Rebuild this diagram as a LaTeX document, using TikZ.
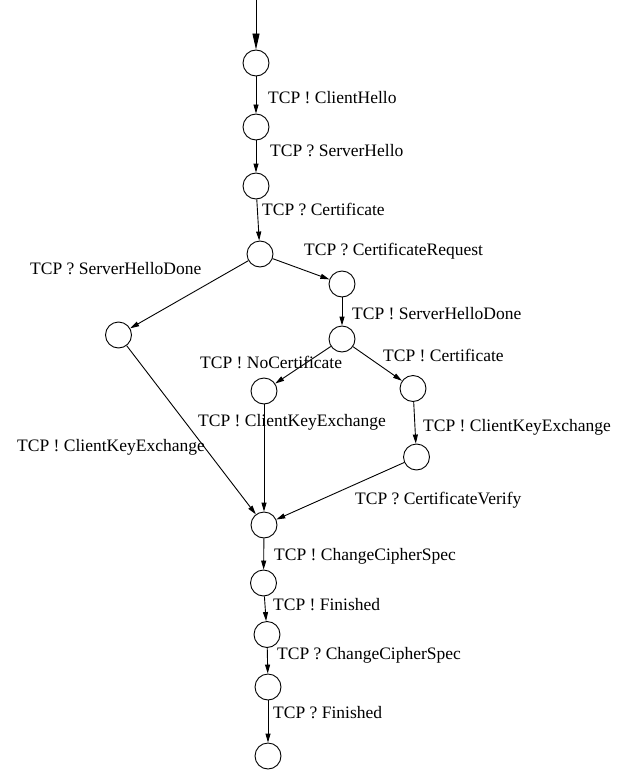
\documentclass[tikz,border=0pt]{standalone}
\usepackage{fontspec}
\setmainfont{Liberation Serif}
\usetikzlibrary{arrows.meta}
\begin{document}
\begin{tikzpicture}[x=1pt,y=-1pt,
  state/.style={circle,draw,line width=0.9pt,minimum size=26pt,inner sep=0pt},
  lbl/.style={anchor=base west,inner sep=0pt,font=\fontsize{17.5}{20}\selectfont},
  trans/.style={draw,line width=0.9pt,-{Triangle[length=9pt,width=5pt]}},
  entry/.style={draw,line width=0.9pt,-{Triangle[length=16pt,width=7pt]}}]
\useasboundingbox (0,0) rectangle (617,773);

% states
\node[state] (n0)  at (256,63)    {};
\node[state] (n1)  at (256,127)   {};
\node[state] (n2)  at (256,186)   {};
\node[state] (n3)  at (260,254)   {};
\node[state] (n4)  at (118.5,335) {};
\node[state] (n5)  at (342,284)   {};
\node[state] (n6)  at (342,339)   {};
\node[state] (n7)  at (264,391)   {};
\node[state] (n8)  at (413,388.5) {};
\node[state] (n9)  at (416.5,457) {};
\node[state] (n10) at (264,525)   {};
\node[state] (n11) at (263.5,583) {};
\node[state] (n12) at (267,634.5) {};
\node[state] (n13) at (268,687)   {};
\node[state] (n14) at (268,756)   {};

% initial transition
\coordinate (start) at (256,0);
\path[entry] (start) -- (n0);

% transitions
\path[trans] (n0) -- (n1);
\path[trans] (n1) -- (n2);
\path[trans] (n2) -- (n3);
\path[trans] (n3) -- (n5);
\path[trans] (n3) -- (n4);
\path[trans] (n5) -- (n6);
\path[trans] (n6) -- (n7);
\path[trans] (n6) -- (n8);
\path[trans] (n8) -- (n9);
\path[trans] (n4) -- (n10);
\path[trans] (n7) -- (n10);
\path[trans] (n9) -- (n10);
\path[trans] (n10) -- (n11);
\path[trans] (n11) -- (n12);
\path[trans] (n12) -- (n13);
\path[trans] (n13) -- (n14);

% labels
\node[lbl] (l1)  at (268,104) {TCP ! ClientHello};
\node[lbl] (l2)  at (270,156) {TCP ? ServerHello};
\node[lbl] (l3)  at (262,215) {TCP ? Certificate};
\node[lbl] (l4)  at (304,255) {TCP ? CertificateRequest};
\node[lbl] (l5)  at (30,274)  {TCP ? ServerHelloDone};
\node[lbl] (l6)  at (352,319) {TCP ! ServerHelloDone};
\node[lbl] (l7)  at (200,368) {TCP ! NoCertificate};
\node[lbl] (l8)  at (383,361) {TCP ! Certificate};
\node[lbl] (l9)  at (198,426) {TCP ! ClientKeyExchange};
\node[lbl] (l10) at (423,431) {TCP ! ClientKeyExchange};
\node[lbl] (l11) at (17,451)  {TCP ! ClientKeyExchange};
\node[lbl] (l12) at (355,504) {TCP ? CertificateVerify};
\node[lbl] (l13) at (274,560) {TCP ! ChangeCipherSpec};
\node[lbl] (l14) at (273,610) {TCP ! Finished};
\node[lbl] (l15) at (277,659) {TCP ? ChangeCipherSpec};
\node[lbl] (l16) at (273,718) {TCP ? Finished};
\end{tikzpicture}
\end{document}
